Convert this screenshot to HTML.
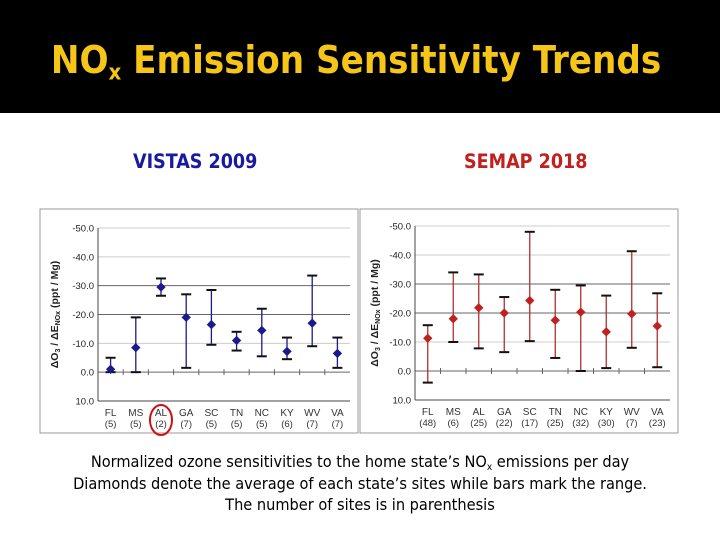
<!DOCTYPE html>
<html><head><meta charset="utf-8"><style>
body{margin:0;width:720px;height:540px;background:#fff;overflow:hidden;font-family:"Liberation Sans",sans-serif;position:relative}
.t{position:absolute;white-space:nowrap}
sub{line-height:0;vertical-align:-0.3em}
</style></head><body>
<div style="position:absolute;left:0;top:0;width:720px;height:113px;background:#000"></div>
<div class="t" style="left:0;width:712px;text-align:center;top:38px;font-size:38px;font-weight:bold;color:#f5c518;font-family:'DejaVu Sans Condensed','Liberation Sans Narrow',sans-serif">NO<sub style="font-size:22px">x</sub> Emission Sensitivity Trends</div>
<div class="t" style="left:133px;top:150px;font-size:19.5px;font-weight:bold;color:#1a1aa0;font-family:'DejaVu Sans Condensed',sans-serif">VISTAS 2009</div>
<div class="t" style="left:464px;top:150px;font-size:19.5px;font-weight:bold;color:#c0201e;font-family:'DejaVu Sans Condensed',sans-serif">SEMAP 2018</div>
<svg id="s" width="720" height="540" style="position:absolute;left:0;top:0"></svg>
<div style="position:absolute;left:0;width:720px;top:451px;text-align:center;font-size:16.2px;line-height:21.5px;color:#000;font-family:'DejaVu Sans Condensed',sans-serif">Normalized ozone sensitivities to the home state’s NO<sub style="font-size:10px">x</sub> emissions per day<br>Diamonds denote the average of each state’s sites while bars mark the range.<br>The number of sites is in parenthesis</div>
<script>
const states=["FL","MS","AL","GA","SC","TN","NC","KY","WV","VA"];
const nA=["5","5","2","7","5","5","5","6","7","7"];
const meanA=[-1,-8.5,-29.5,-19,-16.5,-11,-14.5,-7.2,-17,-6.5];
const loA=[0,0,-26.5,-1.5,-9.5,-7.5,-5.5,-4.5,-9,-1.5];
const hiA=[-5,-19,-32.5,-27,-28.5,-14,-22,-12,-33.5,-12];
const nB=["48","6","25","22","17","25","32","30","7","23"];
const meanB=[-11.3,-18,-21.8,-20,-24.3,-17.5,-20.3,-13.5,-19.7,-15.5];
const loB=[4,-10,-7.8,-6.5,-10.3,-4.5,0,-1,-8,-1.3];
const hiB=[-15.8,-34,-33.3,-25.5,-48,-28,-29.5,-26,-41.3,-26.8];
const ticks=[-50,-40,-30,-20,-10,0,10];
const tickLabels=["-50.0","-40.0","-30.0","-20.0","-10.0","0.0","10.0"];
const svg=document.getElementById('s');
const NS='http://www.w3.org/2000/svg';
function mk(t,a,p){const e=document.createElementNS(NS,t);for(const k in a)e.setAttribute(k,a[k]);(p||svg).appendChild(e);return e;}
function chart(cfg,mean,lo,hi,ns,col,barCol,name){
 const g=mk('g',{});
 
 
 mk('rect',{x:cfg.bx,y:209,width:cfg.bw,height:224,fill:'#fff',stroke:'#999','stroke-width':1},g);
 const y=v=>cfg.y0+(v-(-50))*(cfg.y1-cfg.y0)/60;
 const step=(cfg.xr-cfg.xl)/states.length;
 const x=i=>cfg.xl+step*(i+0.5);
 ticks.forEach((t,i)=>{
  if(t<10){const l=mk('line',{x1:cfg.xl,x2:cfg.xr,y1:y(t),y2:y(t),stroke:(t==-30||t==-20||t==0)?'#666':'#ccc','stroke-width':1},g);
  }
  const tx=mk('text',{x:cfg.xl-4,y:y(t)+3.5,'text-anchor':'end','font-size':9.5,fill:'#222'},g);tx.textContent=tickLabels[i];
  
 });
 mk('line',{x1:cfg.xl,x2:cfg.xl,y1:y(-50),y2:y(10),stroke:'#444'},g);
 mk('line',{x1:cfg.xl,x2:cfg.xr,y1:y(10),y2:y(10),stroke:'#444'},g);
 for(let i=1;i<states.length;i++)mk('line',{x1:cfg.xl+step*i,x2:cfg.xl+step*i,y1:y(0)-3,y2:y(0)+3,stroke:'#666'},g);
 const yt=mk('text',{transform:`translate(${cfg.bx+18},${y(-20)}) rotate(-90)`,'text-anchor':'middle','font-size':10.5,'font-weight':'bold',fill:'#222'},g);
 yt.innerHTML='ΔO<tspan font-size="7" dy="2">3</tspan><tspan dy="-2"> / ΔE</tspan><tspan font-size="7" dy="2">NOx</tspan><tspan dy="-2"> (ppt / Mg)</tspan>';
 
 states.forEach((s,i)=>{
  const cx=x(i);
  const b=mk('line',{x1:cx,x2:cx,y1:y(lo[i]),y2:y(hi[i]),stroke:barCol,'stroke-width':1.3},g);
  
  [lo[i],hi[i]].forEach(v=>mk('line',{x1:cx-5,x2:cx+5,y1:y(v),y2:y(v),stroke:'#111','stroke-width':2},g));
  const d=mk('rect',{x:cx-3.3,y:y(mean[i])-3.3,width:6.6,height:6.6,fill:col,transform:`rotate(45 ${cx} ${y(mean[i])})`},g);
  
  const l1=mk('text',{x:cx,y:y(10)+15,'text-anchor':'middle','font-size':10,fill:'#333'},g);l1.textContent=s;
  
  const l2=mk('text',{x:cx,y:y(10)+26,'text-anchor':'middle','font-size':9.5,fill:'#333'},g);l2.textContent='('+ns[i]+')';
  
 });
 return {x,y};
}
const A=chart({bx:40,bw:318,xl:98,xr:350,y0:228,y1:401},meanA,loA,hiA,nA,'#1a1a8c','#1a1a8c','vistas-chart');
chart({bx:360,bw:318,xl:415,xr:670,y0:226,y1:400},meanB,loB,hiB,nB,'#c0201e','#b03030','semap-chart');
const c=mk('ellipse',{cx:A.x(2),cy:A.y(10)+19,rx:11,ry:15,fill:'none',stroke:'#d01010','stroke-width':2});


</script>
</body></html>
